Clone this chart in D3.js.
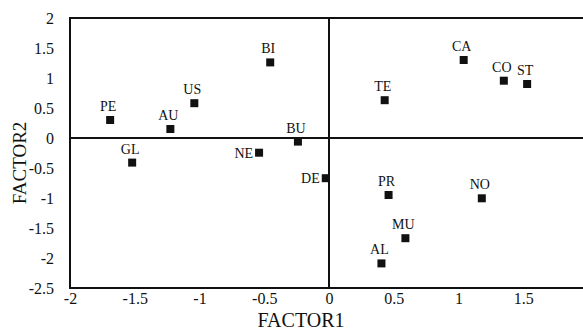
<!DOCTYPE html>
<html>
<head>
<meta charset="utf-8">
<script src="https://cdn.jsdelivr.net/npm/d3@7"></script>
<style>
  html, body { margin: 0; padding: 0; background: #fff; }
  svg { display: block; }
  svg text { font-family: "Liberation Serif", "DejaVu Serif", "Times New Roman", serif; }
</style>
</head>
<body>
<div id="chart"></div>
<script>
(function () {
  const WIDTH  = 583;
  const HEIGHT = 332;
  const MARGIN = { top: 18, right: -5, bottom: 44, left: 70 };

  // point codes and their factor scores
  const codes   = ["PE", "AU", "US", "GL", "BI", "TE", "BU", "NE", "DE", "PR", "AL", "MU", "NO", "CA", "CO", "ST"];
  const factor1 = [-1.69, -1.225, -1.04, -1.52, -0.454, 0.43, -0.24, -0.54, -0.025, 0.46, 0.405, 0.59, 1.18, 1.04, 1.35, 1.53];
  const factor2 = [0.30, 0.15, 0.58, -0.41, 1.26, 0.63, -0.06, -0.245, -0.67, -0.95, -2.09, -1.67, -1.005, 1.30, 0.955, 0.90];
  // labels sit above the marker unless marked "left"
  const labelSide = ["top", "top", "top", "top", "top", "top", "top", "left", "left", "top", "top", "top", "top", "top", "top", "top"];

  const xTicks = [-2, -1.5, -1, -0.5, 0, 0.5, 1, 1.5, 2];
  const yTicks = [2, 1.5, 1, 0.5, 0, -0.5, -1, -1.5, -2, -2.5];

  const points = codes.map((c, i) => ({ code: c, f1: factor1[i], f2: factor2[i], side: labelSide[i] }));

  const svg = d3.select("#chart").append("svg")
    .attr("width", WIDTH)
    .attr("height", HEIGHT);

  const x = d3.scaleLinear()
    .domain([-2, 2])
    .range([MARGIN.left, WIDTH - MARGIN.right]);

  const y = d3.scaleLinear()
    .domain([-2.5, 2])
    .range([HEIGHT - MARGIN.bottom, MARGIN.top]);

  // frame
  svg.append("rect")
    .attr("x", x(-2))
    .attr("y", y(2))
    .attr("width", x(2) - x(-2))
    .attr("height", y(-2.5) - y(2))
    .attr("fill", "none")
    .attr("stroke", "#111")
    .attr("stroke-width", 2);

  // zero lines
  svg.append("line")
    .attr("x1", x(-2)).attr("x2", x(2))
    .attr("y1", y(0)).attr("y2", y(0))
    .attr("stroke", "#111").attr("stroke-width", 2);

  svg.append("line")
    .attr("x1", x(0)).attr("x2", x(0))
    .attr("y1", y(2)).attr("y2", y(-2.5))
    .attr("stroke", "#111").attr("stroke-width", 2);

  // axes, ticks hidden, labels only (plain hyphen for minus)
  const fmt = d => String(d);
  const xAxis = svg.append("g")
    .attr("transform", `translate(0,${y(-2.5)})`)
    .call(d3.axisBottom(x).tickValues(xTicks).tickSize(0).tickPadding(5).tickFormat(fmt));
  const yAxis = svg.append("g")
    .attr("transform", `translate(${x(-2)},0)`)
    .call(d3.axisLeft(y).tickValues(yTicks).tickSize(0).tickPadding(16).tickFormat(fmt));

  [xAxis, yAxis].forEach(g => {
    g.attr("font-family", null);
    g.select(".domain").remove();
    g.selectAll("text")
      .style("font-size", "16px")
      .attr("fill", "#111");
  });

  // markers
  svg.append("g")
    .selectAll("rect")
    .data(points)
    .join("rect")
    .attr("x", d => x(d.f1) - 4)
    .attr("y", d => y(d.f2) - 4)
    .attr("width", 8)
    .attr("height", 8)
    .attr("fill", "#111");

  svg.append("g")
    .selectAll("text")
    .data(points)
    .join("text")
    .attr("x", d => d.side === "left" ? x(d.f1) - 6 : x(d.f1) - 2)
    .attr("y", d => d.side === "left" ? y(d.f2) + 5 : y(d.f2) - 9)
    .attr("text-anchor", d => d.side === "left" ? "end" : "middle")
    .style("font-size", "14px")
    .attr("fill", "#111")
    .text(d => d.code);

  // axis titles
  svg.append("text")
    .attr("x", 301)
    .attr("y", HEIGHT - 5)
    .attr("text-anchor", "middle")
    .style("font-size", "20px")
    .attr("fill", "#111")
    .text("FACTOR1");

  svg.append("text")
    .attr("transform", `translate(26,${(y(2) + y(-2.5)) / 2 + 10}) rotate(-90)`)
    .attr("text-anchor", "middle")
    .style("font-size", "19px")
    .attr("fill", "#111")
    .text("FACTOR2");
})();
</script>
</body>
</html>
